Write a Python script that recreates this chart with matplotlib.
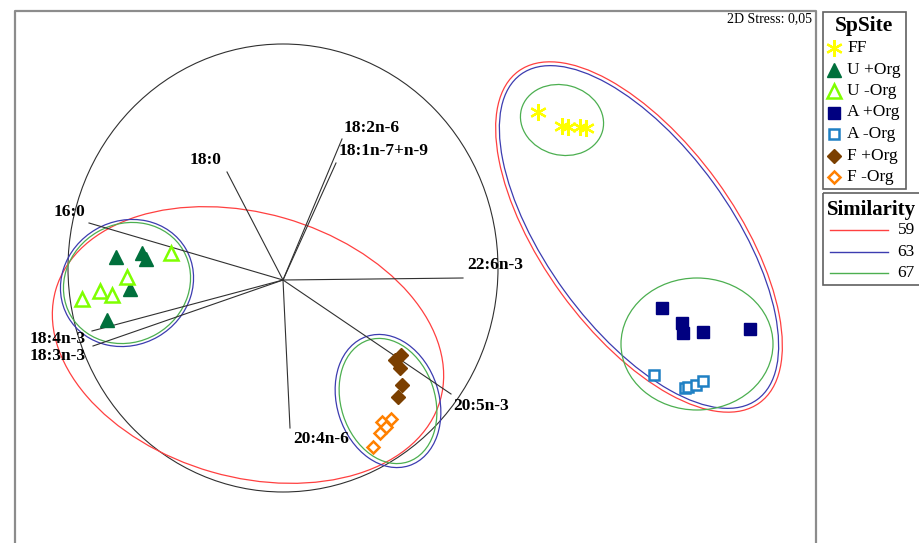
import matplotlib
matplotlib.use("Agg")
import matplotlib.pyplot as plt
from matplotlib.patches import Ellipse, Rectangle

plt.rcParams['font.family'] = ['Liberation Serif', 'DejaVu Serif']

# ordination scores (screen units)
ff_x = [538, 562, 568, 580, 586]
ff_y = [112, 126, 127, 127, 128]
u_pos_x = [116, 142, 146, 130, 107]
u_pos_y = [257, 253, 259, 289, 320]
u_neg_x = [171, 127, 100, 112, 82]
u_neg_y = [253, 277, 291, 295, 299]
a_pos_x = [662, 682, 683, 703, 750]
a_pos_y = [308, 323, 333, 332, 329]
a_neg_x = [654, 685, 688, 696, 703]
a_neg_y = [375, 388, 387, 385, 381]
f_pos_x = [401, 395, 400, 402, 398]
f_pos_y = [355, 360, 368, 385, 397]
f_neg_x = [391, 382, 386, 380, 373]
f_neg_y = [419, 422, 427, 433, 447]

groups = ['FF', 'U +Org', 'U -Org', 'A +Org', 'A -Org', 'F +Org', 'F -Org']

# vector overlay
origin = (283, 280)
vec_names = ['16:0', '18:4n-3', '18:3n-3', '18:0', '18:2n-6',
             '18:1n-7+n-9', '22:6n-3', '20:5n-3', '20:4n-6']
vec_x = [89, 92, 93, 227, 342, 336, 463, 451, 290]
vec_y = [223, 331, 346, 172, 139, 163, 278, 394, 428]
lab_x = [54, 30, 30, 190, 344, 339, 467, 453, 293]
lab_y = [212, 339, 356, 160, 128, 151, 265, 406, 439]

# similarity contours: centre x, centre y, width, height, angle
sim_levels = ['59', '63', '67']
sim_colors = ['#ff4040', '#3c3cb0', '#4caf50']
red_ell = [(248, 345, 400, 264, 16), (639, 237, 410, 192, 54)]
blue_ell = [(127, 283, 136, 124, -30), (388, 401, 102, 136, -18),
            (639, 237, 402, 184, 54)]
green_ell = [(127, 283, 130, 118, -30), (388, 401, 94, 128, -18),
             (562, 120, 84, 70, 15), (697, 344, 152, 132, 0)]

fig = plt.figure(figsize=(9.19, 5.43), dpi=100)
ax = fig.add_axes([0, 0, 1, 1])
ax.set_xlim(0, 919)
ax.set_ylim(543, 0)
ax.axis('off')

# frame
ax.plot([15, 15, 816, 816], [543, 11, 11, 543], color='#8c8c8c', lw=1.6)
ax.text(812, 22, '2D Stress: 0,05', fontsize=10, ha='right', va='baseline')

# correlation circle
ax.add_patch(Ellipse((283, 268), 430, 448, fill=False, ec='#303030', lw=0.8))

for i in range(len(vec_names)):
    ax.plot([origin[0], vec_x[i]], [origin[1], vec_y[i]], color='#303030', lw=0.8)
    ax.text(lab_x[i], lab_y[i], vec_names[i], fontsize=12.5, fontweight='bold',
            va='center', ha='left')

for ells, col in [(red_ell, sim_colors[0]), (blue_ell, sim_colors[1]), (green_ell, sim_colors[2])]:
    for cx, cy, w, h, ang in ells:
        ax.add_patch(Ellipse((cx, cy), w, h, angle=ang, fill=False, ec=col, lw=0.9))

styles = [
    dict(marker=(6, 2, 0), color='#ffff00', ms=12, mew=1.6),
    dict(marker='^', color='#00703c', mfc='#00703c', ms=10),
    dict(marker='^', color='#7fff00', mfc='white', ms=10, mew=1.8),
    dict(marker='s', color='#000080', mfc='#000080', ms=8.5),
    dict(marker='s', color='#1f80c4', mfc='white', ms=7.5, mew=1.8),
    dict(marker='D', color='#7b3f00', mfc='#7b3f00', ms=7.5),
    dict(marker='D', color='#ff8000', mfc='white', ms=6.5, mew=1.8),
]
data = [(ff_x, ff_y), (u_pos_x, u_pos_y), (u_neg_x, u_neg_y), (a_pos_x, a_pos_y),
        (a_neg_x, a_neg_y), (f_pos_x, f_pos_y), (f_neg_x, f_neg_y)]
for (xs, ys), st in zip(data, styles):
    ax.plot(xs, ys, ls='none', **st)

# legend: SpSite
ax.add_patch(Rectangle((823, 12), 83, 177, fill=False, ec='#606060', lw=1.2))
ax.text(864, 26, 'SpSite', fontsize=15.5, fontweight='bold', ha='center', va='center')
for i, g in enumerate(groups):
    y = 48 + i * 21.5
    ax.plot([834], [y], ls='none', **styles[i])
    ax.text(847, y, g, fontsize=12.5, ha='left', va='center')

# legend: Similarity
ax.add_patch(Rectangle((823, 193), 110, 92, fill=False, ec='#606060', lw=1.2))
ax.text(872, 210, 'Similarity', fontsize=15, fontweight='bold', ha='center', va='center')
for i, lev in enumerate(sim_levels):
    y = 230 + i * 21.5
    ax.plot([830, 888], [y, y], color=sim_colors[i], lw=1)
    ax.text(915, y, lev, fontsize=12.5, ha='right', va='center')

fig.savefig('out.png', dpi=100)
